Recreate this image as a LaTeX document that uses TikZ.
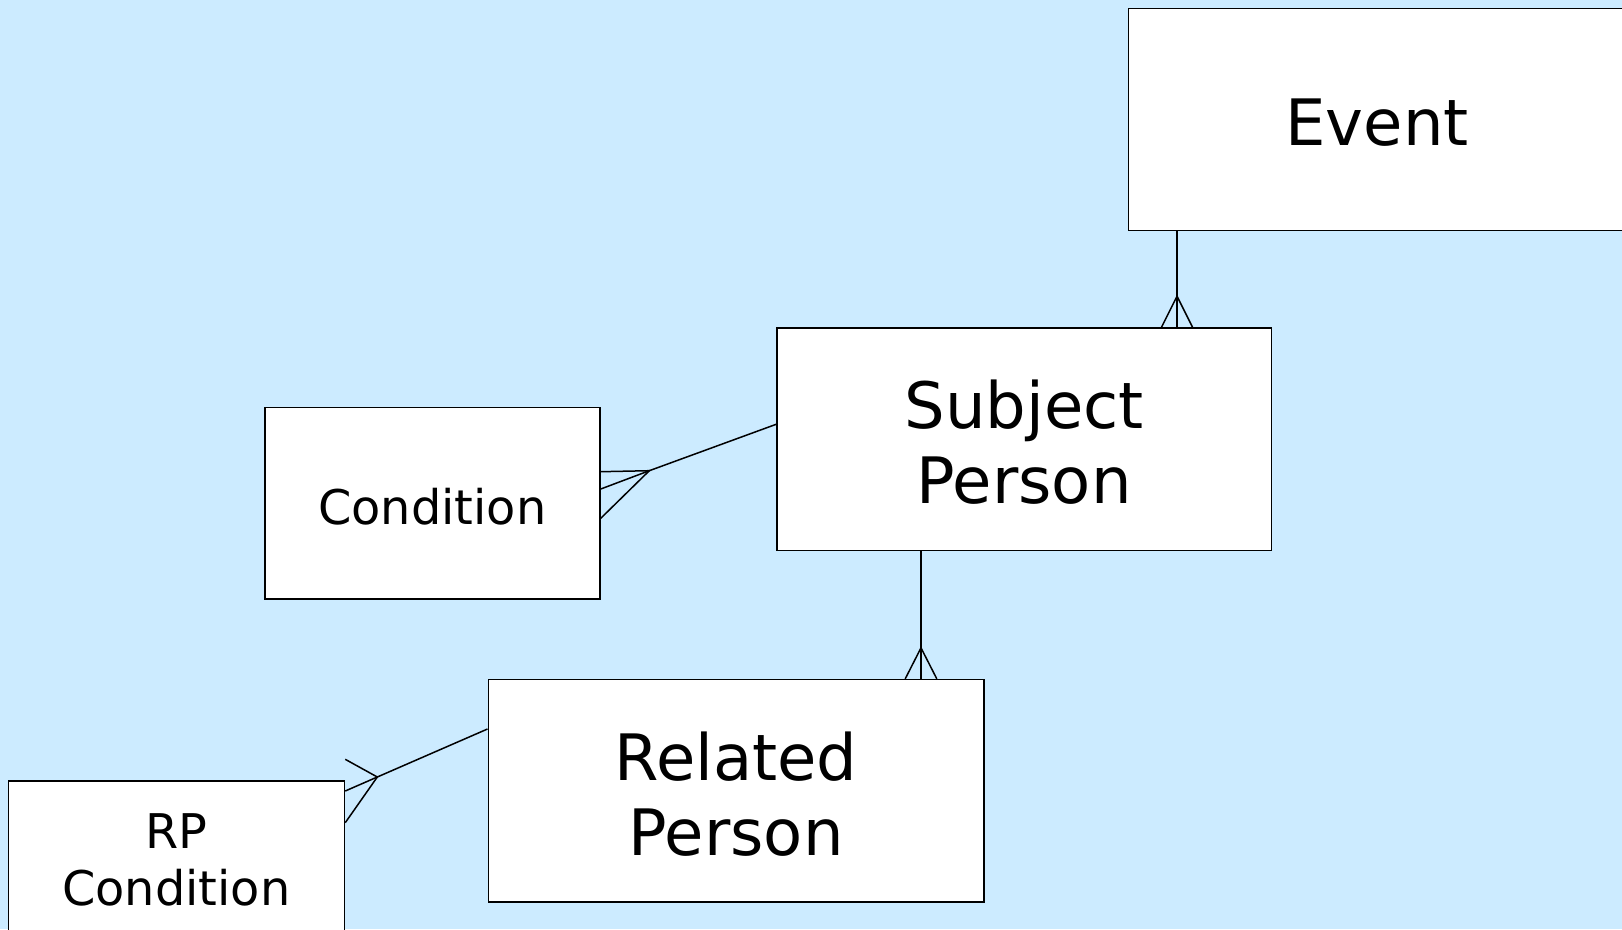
\documentclass[tikz,border=0pt]{standalone}
\usepackage{fontspec}
\setmainfont{DejaVu Sans}
\usetikzlibrary{calc}
\definecolor{bgblue}{RGB}{204,235,255}
\newcommand{\dn}[1]{\raisebox{-3.5pt}[\height][\depth]{#1}}
\tikzset{
  ent/.style={draw=black, fill=white, line width=1.5pt, rectangle, inner sep=0pt, align=center},
  big/.style={font=\fontsize{64}{75}\selectfont},
  small/.style={font=\fontsize{47.8}{57}\selectfont},
  conn/.style={draw=black, line width=1.5pt, line join=miter}
}
\begin{document}
\begin{tikzpicture}[x=1pt,y=-1pt]
\useasboundingbox (0,0) rectangle (1622,929);
\clip (0,0) rectangle (1622,929);
\fill[bgblue] (0,0) rectangle (1622,929);
% entities
\node[ent, big, minimum width=497pt, minimum height=222.4pt] (ev) at (1377,119.5) {\dn{Event}};
\node[ent, big, minimum width=494.4pt, minimum height=222.4pt] (sp) at (1024.1,439.1) {\dn{Subject}\\\dn{Person}};
\node[ent, small, minimum width=335.2pt, minimum height=191.4pt] (cd) at (432.4,503.3) {\dn{Condition}};
\node[ent, big, minimum width=495.5pt, minimum height=222.4pt] (rp) at (736,790.8) {\dn{Related}\\\dn{Person}};
\node[ent, small, minimum width=336.2pt, minimum height=150pt] (rc) at (176.4,856) {\dn{RP}\\\dn{Condition}};
% Event -- Subject Person
\coordinate (x1) at (1177,0);
\draw[conn] (ev.south -| x1) -- (sp.north -| x1);
\draw[conn] ($(sp.north -| x1)+(-15.5,0)$) -- ++(15.5,-31) -- ++(15.5,31);
% Subject Person -- Related Person
\coordinate (x2) at (921,0);
\draw[conn] (sp.south -| x2) -- (rp.north -| x2);
\draw[conn] ($(rp.north -| x2)+(-15.8,0)$) -- ++(15.8,-31) -- ++(15.8,31);
% Subject Person -- Condition
\coordinate (f1) at (649.3,470.7);
\coordinate (y1a) at (0,424.3);
\coordinate (y1b) at (0,489);
\coordinate (y1c) at (0,471.7);
\coordinate (y1d) at (0,518.3);
\draw[conn] (sp.west |- y1a) -- (f1) -- (cd.east |- y1b);
\draw[conn] (cd.east |- y1c) -- (f1) -- (cd.east |- y1d);
% Related Person -- RP Condition
\coordinate (f2) at (377.3,777);
\coordinate (y2a) at (0,729);
\coordinate (y2b) at (0,791);
\coordinate (y2c) at (0,759.3);
\coordinate (y2d) at (0,822.7);
\draw[conn] (rp.west |- y2a) -- (f2) -- (rc.east |- y2b);
\draw[conn] (rc.east |- y2c) -- (f2) -- (rc.east |- y2d);
\end{tikzpicture}
\end{document}
